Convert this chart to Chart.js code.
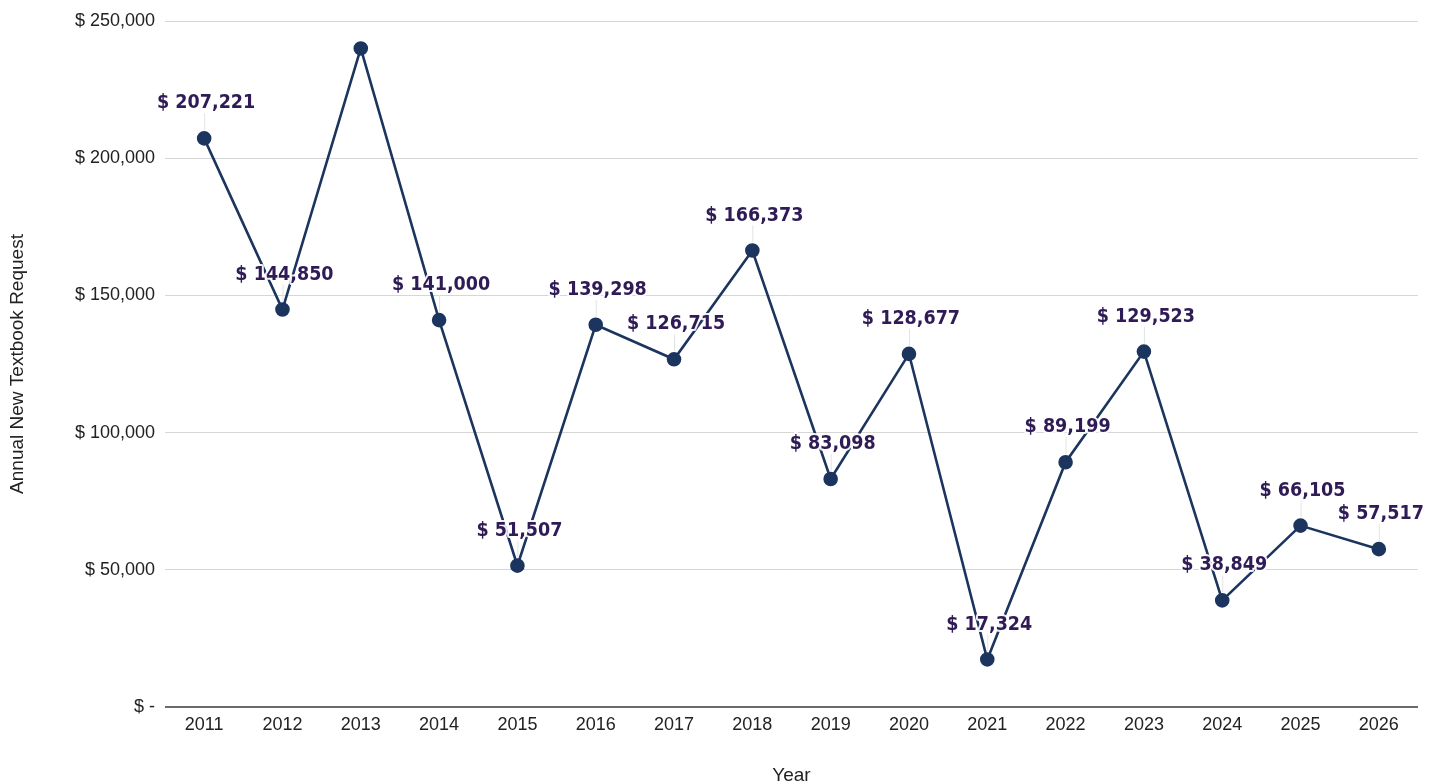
<!DOCTYPE html>
<html lang="en">
<head>
  <meta charset="UTF-8" />
  <title>Annual New Textbook Request</title>
  <script src="https://cdn.jsdelivr.net/npm/chart.js"></script>
  <style>
    html, body {
      margin: 0;
      padding: 0;
      background: #fff;
    }
    #wrap {
      width: 1442px;
      height: 784px;
    }
  </style>
</head>
<body>
  <div id="wrap">
    <canvas id="requestChart"></canvas>
  </div>

  <script>
    const years = ['2011', '2012', '2013', '2014', '2015', '2016', '2017', '2018',
                   '2019', '2020', '2021', '2022', '2023', '2024', '2025', '2026'];
    const requests = [207221, 144850, 240000, 141000, 51507, 139298, 126715, 166373,
                      83098, 128677, 17324, 89199, 129523, 38849, 66105, 57517];
    // 2013 has no value label
    const showLabel = [true, true, false, true, true, true, true, true,
                       true, true, true, true, true, true, true, true];
    const yTicks = [0, 50000, 100000, 150000, 200000, 250000];

    const axisFont = '"Liberation Sans", Arial, sans-serif';

    function money(v) {
      return v === 0 ? '$ -' : '$ ' + v.toLocaleString('en-US');
    }

    // value labels above each point, with a thin leader line and a white halo
    const valueLabels = {
      id: 'valueLabels',
      afterDatasetsDraw(chart) {
        const ctx = chart.ctx;
        const meta = chart.getDatasetMeta(0);
        ctx.save();
        meta.data.forEach((pt, i) => {
          if (!showLabel[i]) return;
          const x = pt.x, y = pt.y;
          ctx.strokeStyle = '#e3e3e3';
          ctx.lineWidth = 1;
          ctx.beginPath();
          ctx.moveTo(x + 0.5, y - 8);
          ctx.lineTo(x + 0.5, y - 25);
          ctx.stroke();

          ctx.font = 'bold 19.5px "DejaVu Sans Condensed", "DejaVu Sans", sans-serif';
          ctx.textAlign = 'center';
          ctx.textBaseline = 'middle';
          const text = money(requests[i]);
          ctx.lineJoin = 'round';
          ctx.lineWidth = 4;
          ctx.strokeStyle = 'rgba(255,255,255,0.9)';
          ctx.strokeText(text, x + 2, y - 35);
          ctx.fillStyle = '#2f1b56';
          ctx.fillText(text, x + 2, y - 35);
        });
        ctx.restore();
      }
    };

    new Chart(document.getElementById('requestChart'), {
      type: 'line',
      data: {
        labels: years,
        datasets: [{
          data: requests,
          borderColor: '#1c355e',
          borderWidth: 2.6,
          pointBackgroundColor: '#1c355e',
          pointBorderColor: '#1c355e',
          pointRadius: 6,
          tension: 0,
          fill: false
        }]
      },
      options: {
        responsive: true,
        maintainAspectRatio: false,
        animation: false,
        layout: { padding: { top: 21, right: 24, left: 0, bottom: 0 } },
        plugins: {
          legend: { display: false },
          tooltip: { enabled: false }
        },
        scales: {
          x: {
            offset: true,
            grid: { display: false, drawTicks: false },
            border: { display: false },
            ticks: {
              color: '#222',
              padding: 7,
              font: { family: axisFont, size: 18 }
            },
            title: {
              display: true,
              text: 'Year',
              color: '#222',
              padding: { top: 0, bottom: 0 },
              font: { family: axisFont, size: 19, lineHeight: 0.85 }
            },
            afterFit(scale) { scale.height = 77; }
          },
          y: {
            min: 0,
            max: 250000,
            afterBuildTicks(scale) {
              scale.ticks = yTicks.map(v => ({ value: v }));
            },
            grid: {
              drawTicks: false,
              color: c => c.tick && c.tick.value === 0 ? '#6b6b6b' : '#d6d6d6',
              lineWidth: c => c.tick && c.tick.value === 0 ? 2 : 1
            },
            border: { display: false },
            ticks: {
              color: '#222',
              padding: 10,
              font: { family: axisFont, size: 18 },
              callback: v => money(v)
            },
            title: {
              display: true,
              text: 'Annual New Textbook Request',
              color: '#222',
              padding: { top: 6, bottom: 0 },
              font: { family: axisFont, size: 19 }
            },
            afterFit(scale) { scale.width = 165; }
          }
        }
      },
      plugins: [valueLabels]
    });
  </script>
</body>
</html>
